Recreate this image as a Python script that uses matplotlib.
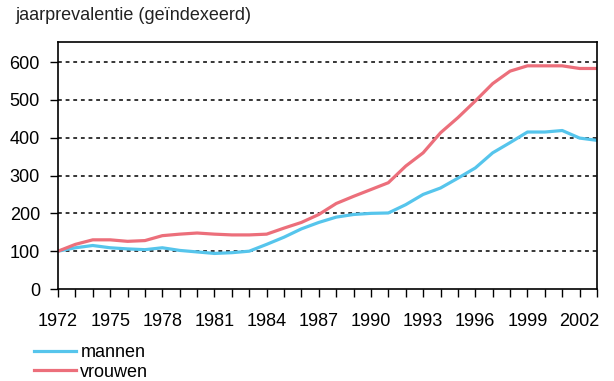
import matplotlib.pyplot as plt
from matplotlib.ticker import MultipleLocator

years = list(range(1972, 2004))
mannen = [100, 109, 115, 109, 106, 104, 109, 102, 98, 94, 96, 100, 118, 137, 159, 176,
          190, 197, 200, 201, 223, 250, 267, 293, 320, 360, 387, 415, 415, 419, 399, 393]
vrouwen = [100, 118, 130, 130, 126, 128, 141, 145, 148, 145, 143, 143, 145, 161, 176, 197,
           226, 245, 263, 281, 325, 360, 413, 453, 497, 543, 576, 590, 590, 590, 583, 583]
labels = ['mannen', 'vrouwen']
kleuren = ['#56C5EC', '#EC6F7B']

plt.rcParams['font.family'] = ['Liberation Sans', 'DejaVu Sans']

fig = plt.figure(figsize=(6.14, 3.81), dpi=100)
ax = fig.add_axes([58 / 614, 1 - 289 / 381, (597 - 58) / 614, (289 - 42) / 381])

ax.plot(years, mannen, color=kleuren[0], lw=2.3, label=labels[0])
ax.plot(years, vrouwen, color=kleuren[1], lw=2.3, label=labels[1])

ax.set_xticks(range(1972, 2004, 3))
ax.xaxis.set_minor_locator(MultipleLocator(1))
ax.set_yticks(range(0, 700, 100))
ax.set_xlim(1972, 2003)
ax.set_ylim(0, 653)

for y in range(100, 700, 100):
    ax.axhline(y, color='black', lw=1.1, ls=(0, (2.5, 2.5)), zorder=0)

ax.tick_params(axis='x', which='both', length=6, width=1.0, direction='out', pad=11,
               labelsize=13)
ax.tick_params(axis='y', length=6, width=1.0, direction='out', pad=7, labelsize=13)
for s in ax.spines.values():
    s.set_linewidth(1.2)

fig.text(15 / 614, 1 - 16 / 381, 'jaarprevalentie (geïndexeerd)', fontsize=13,
         va='center', ha='left', color='#222222')

ax.legend(loc='upper left', bbox_to_anchor=(34 / 614, 1 - 344 / 381),
          bbox_transform=fig.transFigure, frameon=False, fontsize=13,
          handlelength=2.35, handletextpad=0.22, labelspacing=0.15, borderpad=0,
          borderaxespad=0)

fig.savefig('out.png', dpi=100)
